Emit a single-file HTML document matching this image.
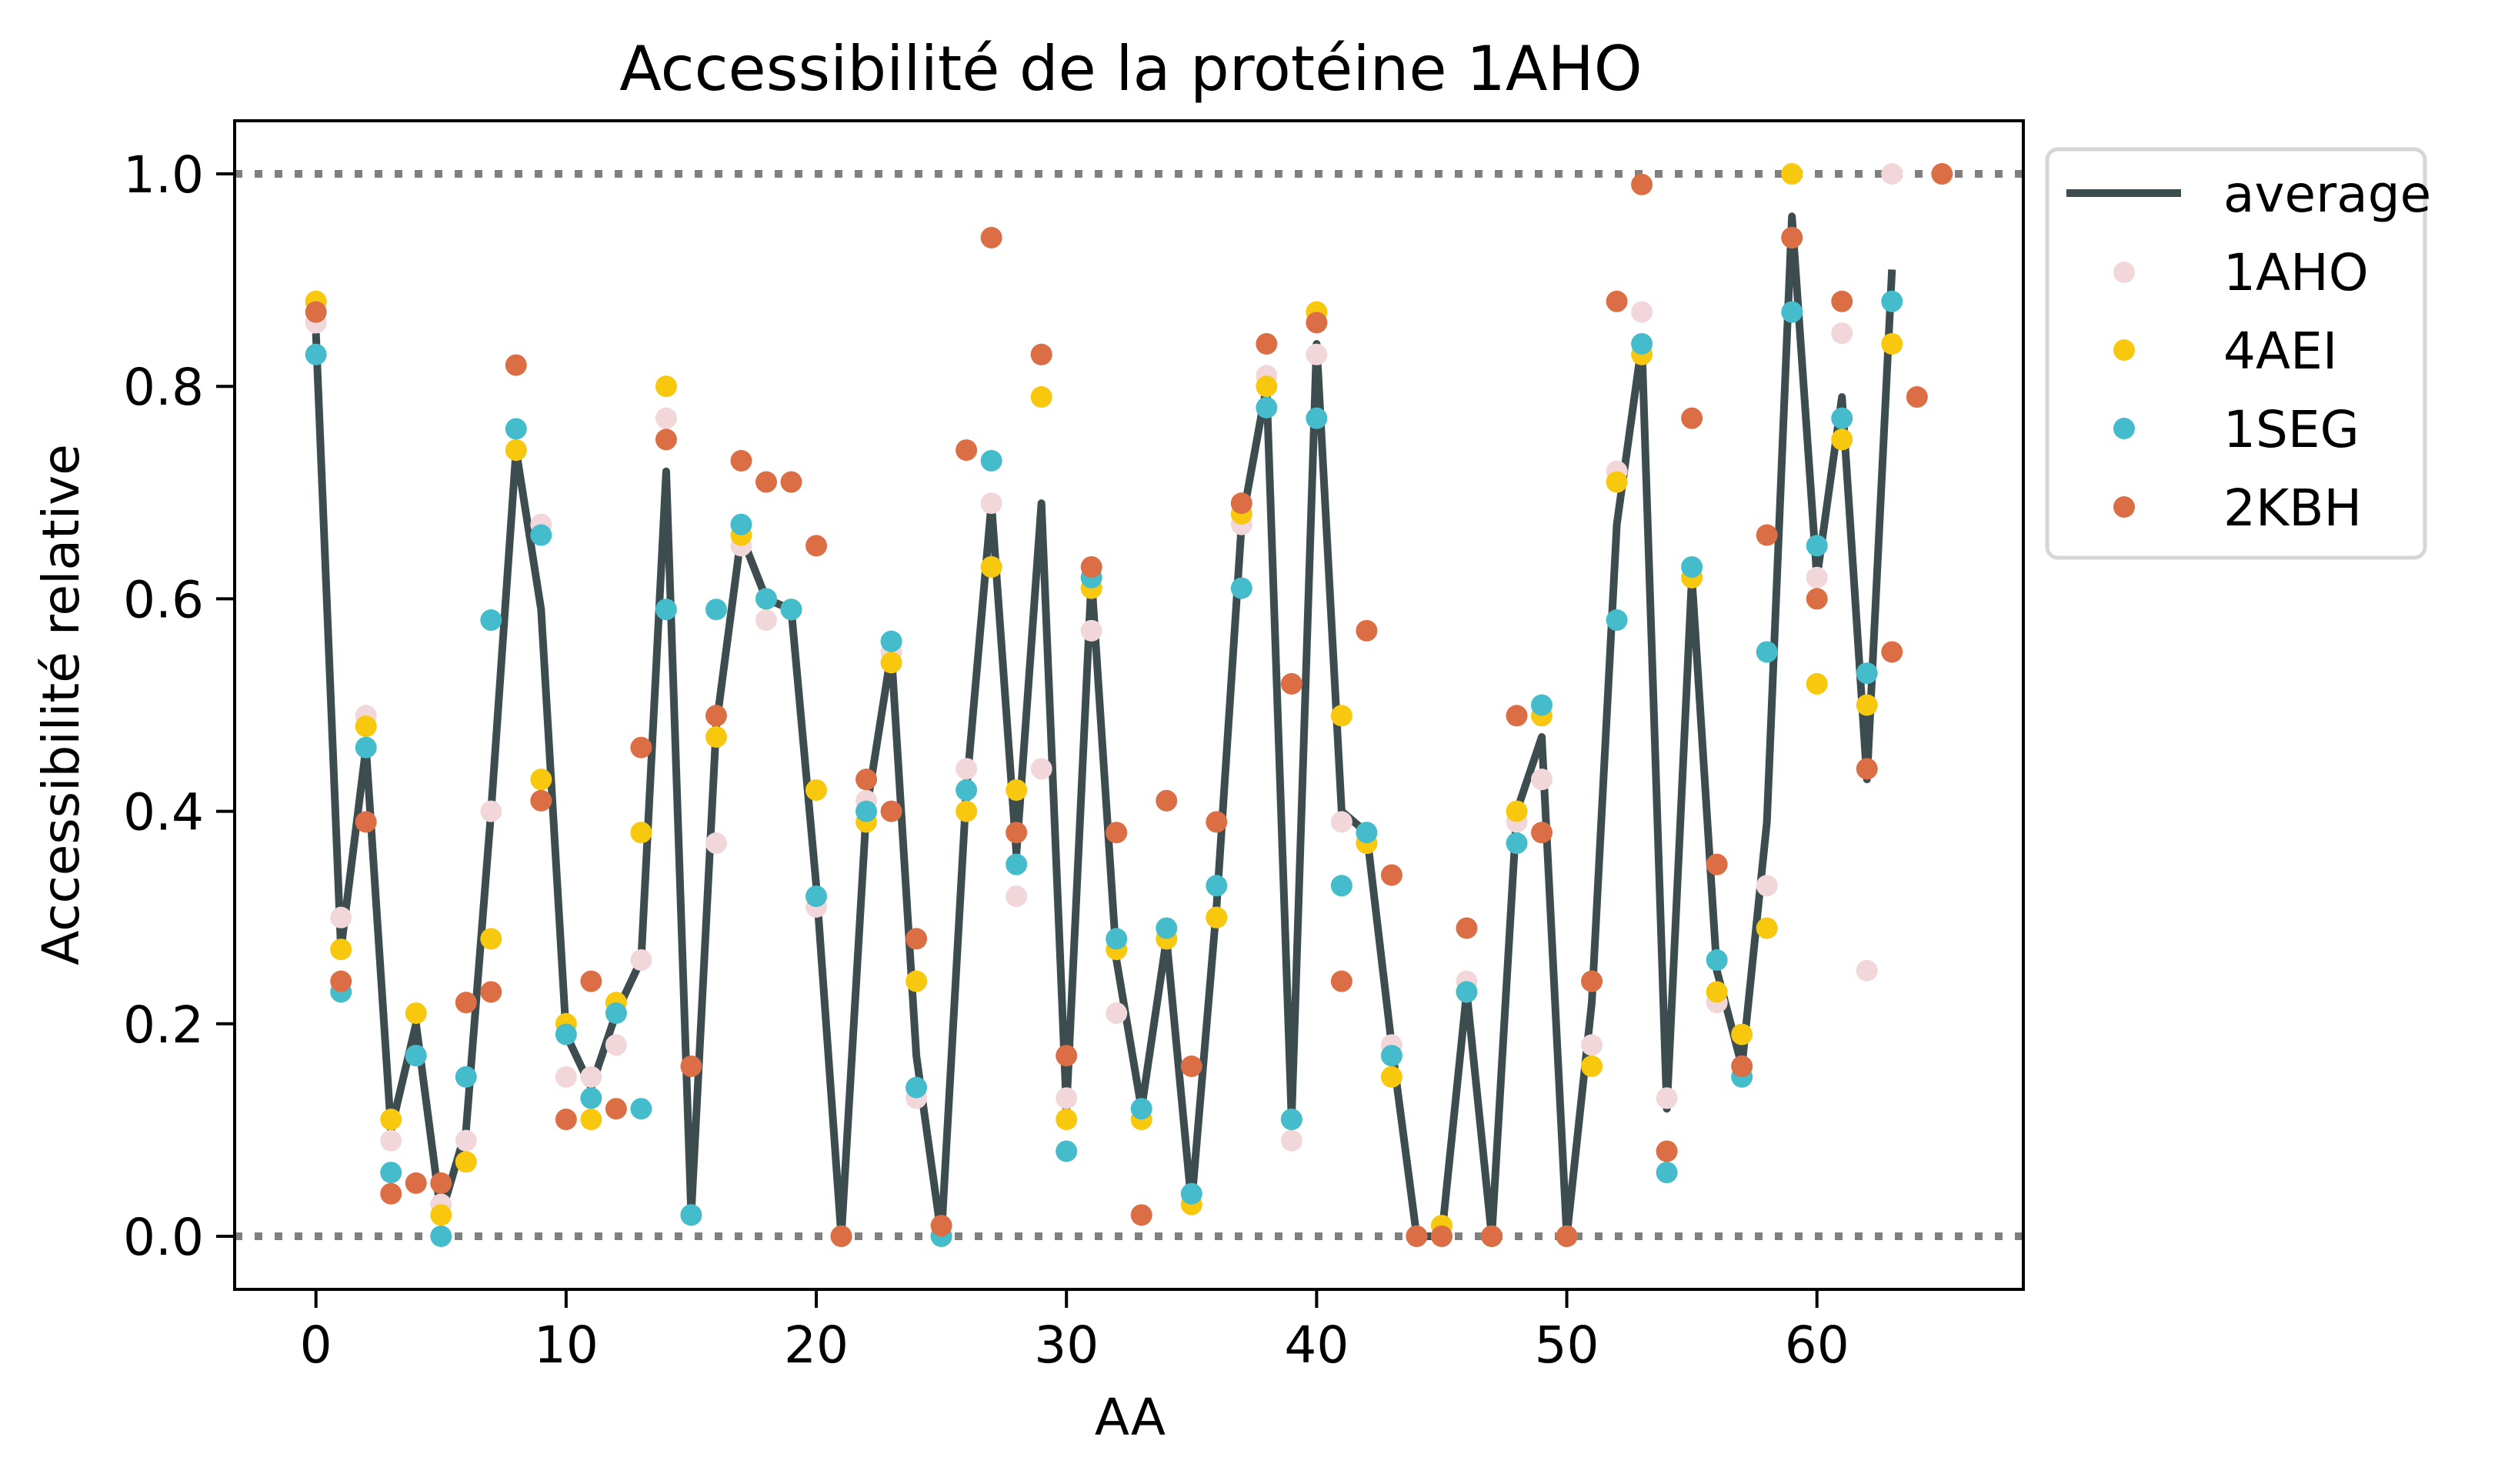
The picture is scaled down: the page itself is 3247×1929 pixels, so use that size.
<!DOCTYPE html>
<html><head><meta charset="utf-8"><style>
html,body{margin:0;padding:0;background:#fff;}
svg{display:block;font-family:"DejaVu Sans","Liberation Sans",sans-serif;}
</style></head><body>
<svg id="chart" width="3247" height="1929" viewBox="0 0 3247 1929" xmlns="http://www.w3.org/2000/svg">
<rect width="3247" height="1929" fill="#fff"/>
<text x="1470" y="117" font-size="80" text-anchor="middle">Accessibilité de la protéine 1AHO</text>
<g id="grid"></g>
<g id="series"></g>
<rect x="305" y="157" width="2325" height="1519" fill="none" stroke="#000" stroke-width="4"/>
<g id="axes"></g>
<text x="1469" y="1865" font-size="66" text-anchor="middle">AA</text>
<text transform="translate(102,916) rotate(-90)" font-size="66" text-anchor="middle">Accessibilité relative</text>
<g>
<rect x="2661" y="194" width="491" height="531" rx="14" fill="#fff" stroke="#d6d6d6" stroke-width="5"/>
<line x1="2686" y1="251" x2="2835" y2="251" stroke="#3d4d4f" stroke-width="10"/>
<text x="2890" y="275" font-size="66">average</text>
<circle cx="2761" cy="354" r="14" fill="#f2d7da"/>
<text x="2890" y="377" font-size="66">1AHO</text>
<circle cx="2761" cy="455" r="14" fill="#f8c80f"/>
<text x="2890" y="479" font-size="66">4AEI</text>
<circle cx="2761" cy="557" r="14" fill="#45bccb"/>
<text x="2890" y="581" font-size="66">1SEG</text>
<circle cx="2761" cy="659" r="14" fill="#dc6e45"/>
<text x="2890" y="683" font-size="66">2KBH</text>
</g>
</svg>
<script>
const xTicks = [0,10,20,30,40,50,60];
const yTicks = [0.0,0.2,0.4,0.6,0.8,1.0];
const yTickLabels = ["0.0","0.2","0.4","0.6","0.8","1.0"];
const average = [0.85,0.27,0.46,0.10,0.20,0.02,0.10,0.40,0.74,0.59,0.19,0.14,0.21,0.26,0.72,0.02,0.48,0.66,0.60,0.59,0.33,0.00,0.40,0.55,0.17,0.00,0.42,0.69,0.36,0.69,0.12,0.62,0.26,0.12,0.28,0.03,0.31,0.67,0.80,0.11,0.84,0.40,0.38,0.18,0.00,0.00,0.23,0.00,0.40,0.47,0.00,0.22,0.67,0.84,0.12,0.62,0.25,0.16,0.39,0.96,0.62,0.79,0.43,0.91];
const s1AHO = [0.86,0.30,0.49,0.09,0.17,0.03,0.09,0.40,0.74,0.67,0.15,0.15,0.18,0.26,0.77,0.02,0.37,0.65,0.58,0.59,0.31,0.00,0.41,0.55,0.13,0.00,0.44,0.69,0.32,0.44,0.13,0.57,0.21,0.11,0.28,0.03,0.30,0.67,0.81,0.09,0.83,0.39,0.37,0.18,0.00,0.00,0.24,0.00,0.39,0.43,0.00,0.18,0.72,0.87,0.13,0.62,0.22,0.16,0.33,0.94,0.62,0.85,0.25,1.00];
const s4AEI = [0.88,0.27,0.48,0.11,0.21,0.02,0.07,0.28,0.74,0.43,0.20,0.11,0.22,0.38,0.80,0.02,0.47,0.66,0.60,0.59,0.42,0.00,0.39,0.54,0.24,0.00,0.40,0.63,0.42,0.79,0.11,0.61,0.27,0.11,0.28,0.03,0.30,0.68,0.80,0.11,0.87,0.49,0.37,0.15,0.00,0.01,0.23,0.00,0.40,0.49,0.00,0.16,0.71,0.83,0.08,0.62,0.23,0.19,0.29,1.00,0.52,0.75,0.50,0.84];
const s1SEG = [0.83,0.23,0.46,0.06,0.17,0.00,0.15,0.58,0.76,0.66,0.19,0.13,0.21,0.12,0.59,0.02,0.59,0.67,0.60,0.59,0.32,0.00,0.40,0.56,0.14,0.00,0.42,0.73,0.35,0.83,0.08,0.62,0.28,0.12,0.29,0.04,0.33,0.61,0.78,0.11,0.77,0.33,0.38,0.17,0.00,0.00,0.23,0.00,0.37,0.50,0.00,0.24,0.58,0.84,0.06,0.63,0.26,0.15,0.55,0.87,0.65,0.77,0.53,0.88];
const s2KBH = [0.87,0.24,0.39,0.04,0.05,0.05,0.22,0.23,0.82,0.41,0.11,0.24,0.12,0.46,0.75,0.16,0.49,0.73,0.71,0.71,0.65,0.00,0.43,0.40,0.28,0.01,0.74,0.94,0.38,0.83,0.17,0.63,0.38,0.02,0.41,0.16,0.39,0.69,0.84,0.52,0.86,0.24,0.57,0.34,0.00,0.00,0.29,0.00,0.49,0.38,0.00,0.24,0.88,0.99,0.08,0.77,0.35,0.16,0.66,0.94,0.60,0.88,0.44,0.55,0.79,1.00];

const NS='http://www.w3.org/2000/svg';
const L=305,R=2630,T=157,B=1676;
const xMin=-3.25,xMax=68.25,yMin=-0.05,yMax=1.05;
function xs(v){return L+(v-xMin)/(xMax-xMin)*(R-L);}
function ys(v){return B-(v-yMin)/(yMax-yMin)*(B-T);}
function mk(tag,attrs,parent){const e=document.createElementNS(NS,tag);for(const k in attrs)e.setAttribute(k,attrs[k]);parent.appendChild(e);return e;}

const grid=document.getElementById('grid');
[0,1].forEach(v=>{
  const l=mk('line',{x1:L,x2:R,y1:ys(v),y2:ys(v),stroke:'#808080','stroke-width':10,'stroke-dasharray':'10 16'},grid);
  
  
});

const axes=document.getElementById('axes');
xTicks.forEach(t=>{
  const tl=mk('line',{x1:xs(t),x2:xs(t),y1:B,y2:B+24,stroke:'#000','stroke-width':4},axes);
  
  
  const tx=mk('text',{x:xs(t),y:1771,'font-size':66,'text-anchor':'middle'},axes);
  tx.textContent=String(t);
  
  
});
yTicks.forEach((t,i)=>{
  const tl=mk('line',{x1:L-24,x2:L,y1:ys(t),y2:ys(t),stroke:'#000','stroke-width':4},axes);
  
  
  const tx=mk('text',{x:L-40,y:ys(t)+24,'font-size':66,'text-anchor':'end'},axes);
  tx.textContent=yTickLabels[i];
  
  
});

const series=document.getElementById('series');
const path=mk('polyline',{points:average.map((v,i)=>xs(i)+','+ys(v)).join(' '),fill:'none',stroke:'#3d4d4f','stroke-width':10,'stroke-linejoin':'round'},series);



const sets=[['1aho',s1AHO,'#f2d7da'],['4aei',s4AEI,'#f8c80f'],['1seg',s1SEG,'#45bccb'],['2kbh',s2KBH,'#dc6e45']];
sets.forEach(([name,arr,col])=>{
  const g=mk('g',{},series);
  
  
  arr.forEach((v,i)=>{
    const c=mk('circle',{cx:xs(i),cy:ys(v),r:14,fill:col},g);
    
    
  });
});
</script>
</body></html>
